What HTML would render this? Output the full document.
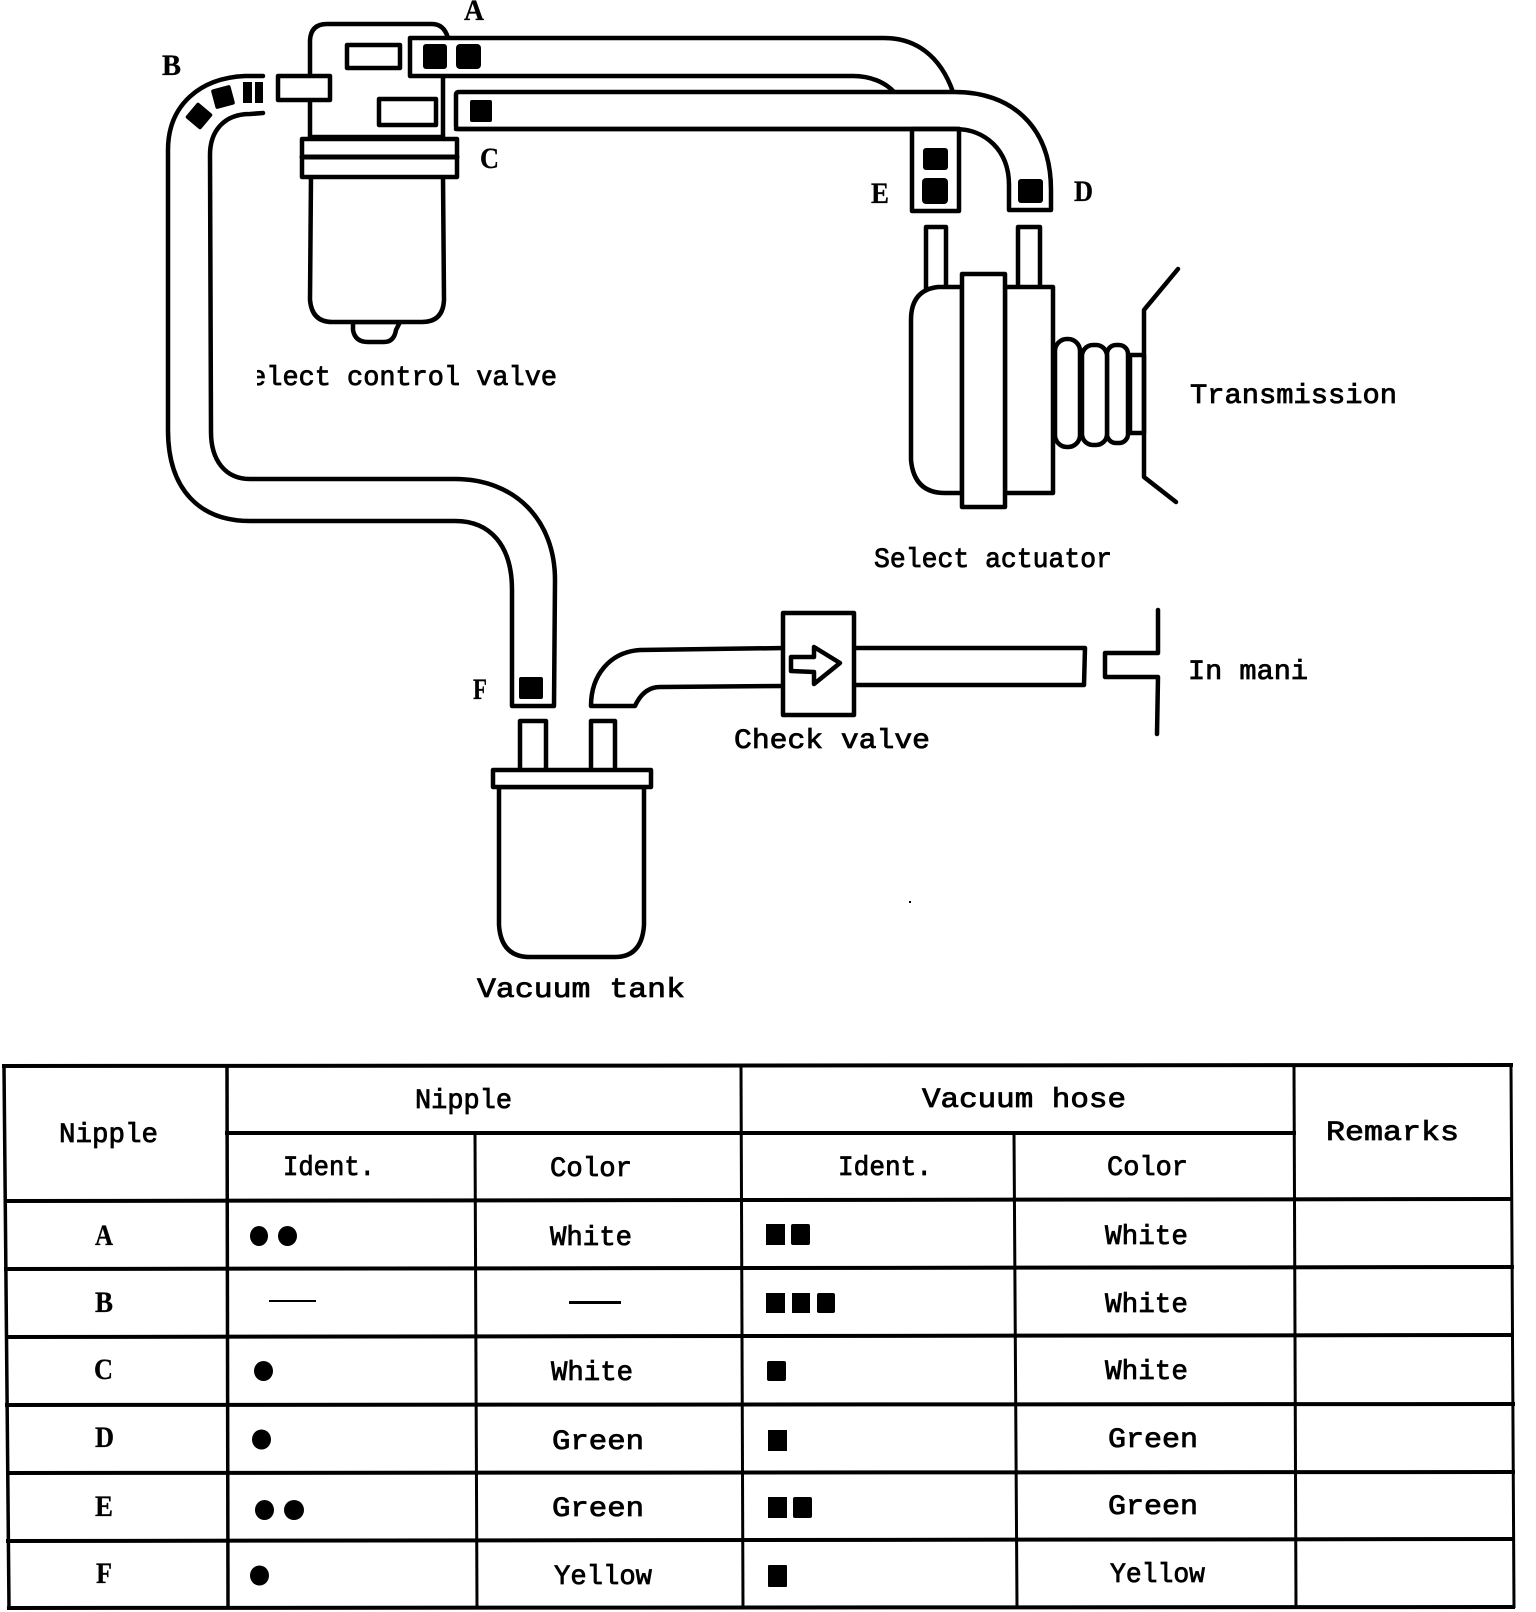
<!DOCTYPE html>
<html><head><meta charset="utf-8"><style>
html,body{margin:0;padding:0;background:#fff}
svg{display:block}
text{font-family:"Liberation Mono",monospace;font-size:28px;fill:#000;stroke:#000;stroke-width:.8}
text.c{font-family:"Liberation Serif",serif;font-weight:bold;font-size:30px;stroke-width:.3}
.s{fill:#fff;stroke:#000;stroke-width:4.5;stroke-linejoin:round;stroke-linecap:round}
.n{fill:none;stroke:#000;stroke-width:4.5;stroke-linejoin:round;stroke-linecap:round}
.t{fill:none;stroke:#000;stroke-width:4;stroke-linecap:square}
.v{fill:none;stroke:#000;stroke-width:3}
</style></head><body>
<svg xmlns="http://www.w3.org/2000/svg" width="1536" height="1612" viewBox="0 0 1536 1612">
<defs><clipPath id="c"><rect x="257" y="350" width="320" height="50"/></clipPath></defs>

<!-- select control valve -->
<path class="s" d="M310,137 L310,40 Q311,24 327,24 L432,24 Q444,24 448,38 L443,76 L443,137 Z"/>
<rect class="s" x="347" y="45" width="53" height="23"/>
<rect class="s" x="379" y="99" width="57" height="26"/>
<rect class="s" x="278" y="76" width="52" height="24"/>
<path class="s" d="M353,322 L353,330 Q355,342 368,342 L384,342 Q394,342 396,330 L400,322 Z"/>
<path class="s" d="M311,176 L310,300 Q312,322 332,322 L422,322 Q443,322 444,300 L443,176 Z"/>
<rect class="s" x="302" y="139" width="155" height="38"/>
<line class="n" x1="302" y1="157" x2="457" y2="157" style="stroke-width:5"/>
<text clip-path="url(#c)" x="234" y="385" textLength="323" lengthAdjust="spacingAndGlyphs">Select control valve</text>

<!-- hose A -->
<path class="s" d="M953,92 C940,55 915,38 884,38 L410,38 L410,76 L853,76 C870,76 885,82 894,92"/>
<rect x="423" y="44" width="24" height="25" rx="3"/><rect x="456" y="44" width="25" height="25" rx="4"/>
<!-- hose C-D -->
<path class="s" d="M459,92 L955,92 C1010,92 1051,125 1051,190 L1051,210 L1009,210 L1009,185 C1009,150 985,129 955,129 L459,129 Q456,129 456,126 L456,95 Q456,92 459,92 Z"/>
<rect x="470" y="100" width="22" height="22" rx="2"/>
<rect class="s" x="912" y="129" width="47" height="82"/>
<line class="n" x1="456" y1="129" x2="959" y2="129"/>
<rect x="923" y="148" width="25" height="22" rx="3"/><rect x="922" y="178" width="26" height="26" rx="4"/>
<rect x="1018" y="179" width="25" height="24" rx="3"/>

<!-- hose B-F -->
<path class="n" d="M263,76 L245,76 C200,78 168,105 168,150 L168,430 C168,490 200,521 250,521 L455,521 C490,521 512,545 512,590 L512,706 L554,706 L555,580 C555,520 515,479 455,479 L250,479 C225,479 211,460 211,432 L210,155 C210,130 225,114 250,114 L263,113"/>
<rect x="243" y="82" width="9" height="21"/><rect x="255" y="82" width="8" height="21"/>
<rect x="213" y="87" width="20" height="20" rx="2" transform="rotate(-15 223 97)"/>
<rect x="189" y="106" width="20" height="20" rx="2" transform="rotate(40 199 116)"/>
<rect x="519" y="677" width="24" height="22" rx="2"/>

<!-- actuator -->
<rect class="s" x="926" y="227" width="20" height="62"/>
<rect class="s" x="1018" y="227" width="22" height="62"/>
<path class="s" d="M962,287 L938,287 Q911,290 911,320 L911,460 Q914,493 945,493 L962,493 Z"/>
<rect class="s" x="1005" y="287" width="48" height="206"/>
<rect class="s" x="962" y="274" width="43" height="233"/>
<rect class="s" x="1130" y="355" width="14" height="78"/>
<rect class="s" x="1107" y="345" width="21" height="98" rx="9"/>
<rect class="s" x="1082" y="345" width="25" height="100" rx="11"/>
<rect class="s" x="1055" y="339" width="25" height="108" rx="12"/>
<path class="n" d="M1178,269 L1144,310 L1144,477 L1176,502"/>

<!-- tank -->
<rect class="s" x="520" y="721" width="26" height="50"/>
<rect class="s" x="591" y="721" width="24" height="50"/>
<path class="s" d="M499,787 L499,925 Q501,957 530,957 L615,957 Q642,957 644,925 L644,787 Z"/>
<rect class="s" x="493" y="770" width="158" height="17"/>

<!-- elbow + check valve -->
<path class="s" d="M785,648 L640,650 C610,652 591,675 591,706 L635,706 C640,695 648,687 660,687 L785,686"/>
<path class="s" d="M854,648 L1085,648 L1084,685 L854,685"/>
<rect class="s" x="783" y="613" width="71" height="102"/>
<path class="n" d="M791,657 L814,657 L814,647 L840,663 L814,684 L814,672 L791,671 Z"/>
<path class="n" d="M1158,610 L1158,653 L1105,653 L1105,677 L1158,677 L1157,734"/>
<rect x="909" y="901" width="2" height="2"/>

<!-- diagram labels -->
<text class="c" x="464" y="20" textLength="20" lengthAdjust="spacingAndGlyphs">A</text>
<text class="c" x="162" y="75" textLength="19" lengthAdjust="spacingAndGlyphs">B</text>
<text class="c" x="480" y="168" textLength="19" lengthAdjust="spacingAndGlyphs">C</text>
<text class="c" x="871" y="203" textLength="18" lengthAdjust="spacingAndGlyphs">E</text>
<text class="c" x="1074" y="201" textLength="19" lengthAdjust="spacingAndGlyphs">D</text>
<text class="c" x="473" y="699" textLength="14" lengthAdjust="spacingAndGlyphs">F</text>
<text x="1190" y="403" textLength="207" lengthAdjust="spacingAndGlyphs">Transmission</text>
<text x="874" y="567" textLength="238" lengthAdjust="spacingAndGlyphs">Select actuator</text>
<text x="1188" y="679" textLength="120" lengthAdjust="spacingAndGlyphs">In mani</text>
<text x="734" y="748" textLength="196" lengthAdjust="spacingAndGlyphs">Check valve</text>
<text x="477" y="997" textLength="208" lengthAdjust="spacingAndGlyphs">Vacuum tank</text>

<!-- table -->
<path class="t" d="M4,1066 L1511,1065"/>
<path class="t" d="M227,1133 L1294,1133"/>
<path class="t" d="M6,1201 L1511,1199"/>
<path class="t" d="M6,1269 L1512,1267"/>
<path class="t" d="M7,1337 L1512,1335"/>
<path class="t" d="M7,1405 L1513,1404"/>
<path class="t" d="M8,1473 L1513,1472"/>
<path class="t" d="M8,1541 L1513,1539"/>
<path class="t" d="M9,1608 L1513,1607"/>
<path class="v" d="M4,1066 L9,1608" style="stroke-width:3.5"/>
<path class="v" d="M227,1066 L228,1608" style="stroke-width:3.5"/>
<path class="v" d="M475,1133 L477,1608"/>
<path class="v" d="M741,1066 L743,1608"/>
<path class="v" d="M1014,1133 L1017,1608"/>
<path class="v" d="M1294,1066 L1296,1608"/>
<path class="v" d="M1511,1066 L1514,1608"/>

<text x="59" y="1142" textLength="99" lengthAdjust="spacingAndGlyphs">Nipple</text>
<text x="415" y="1108" textLength="97" lengthAdjust="spacingAndGlyphs">Nipple</text>
<text x="922" y="1107" textLength="204" lengthAdjust="spacingAndGlyphs">Vacuum hose</text>
<text x="1326" y="1140" textLength="133" lengthAdjust="spacingAndGlyphs">Remarks</text>
<text x="283" y="1175" textLength="92" lengthAdjust="spacingAndGlyphs">Ident.</text>
<text x="550" y="1176" textLength="82" lengthAdjust="spacingAndGlyphs">Color</text>
<text x="838" y="1175" textLength="94" lengthAdjust="spacingAndGlyphs">Ident.</text>
<text x="1107" y="1175" textLength="81" lengthAdjust="spacingAndGlyphs">Color</text>

<text class="c" x="95" y="1245" textLength="18" lengthAdjust="spacingAndGlyphs">A</text>
<text class="c" x="95" y="1312" textLength="18" lengthAdjust="spacingAndGlyphs">B</text>
<text class="c" x="94" y="1379" textLength="19" lengthAdjust="spacingAndGlyphs">C</text>
<text class="c" x="95" y="1447" textLength="19" lengthAdjust="spacingAndGlyphs">D</text>
<text class="c" x="95" y="1516" textLength="18" lengthAdjust="spacingAndGlyphs">E</text>
<text class="c" x="96" y="1583" textLength="16" lengthAdjust="spacingAndGlyphs">F</text>

<text x="550" y="1245" textLength="82" lengthAdjust="spacingAndGlyphs">White</text>
<text x="551" y="1380" textLength="82" lengthAdjust="spacingAndGlyphs">White</text>
<text x="552" y="1449" textLength="92" lengthAdjust="spacingAndGlyphs">Green</text>
<text x="552" y="1516" textLength="92" lengthAdjust="spacingAndGlyphs">Green</text>
<text x="554" y="1584" textLength="98" lengthAdjust="spacingAndGlyphs">Yellow</text>

<text x="1105" y="1244" textLength="83" lengthAdjust="spacingAndGlyphs">White</text>
<text x="1105" y="1312" textLength="83" lengthAdjust="spacingAndGlyphs">White</text>
<text x="1105" y="1379" textLength="83" lengthAdjust="spacingAndGlyphs">White</text>
<text x="1108" y="1447" textLength="90" lengthAdjust="spacingAndGlyphs">Green</text>
<text x="1108" y="1514" textLength="90" lengthAdjust="spacingAndGlyphs">Green</text>
<text x="1110" y="1582" textLength="95" lengthAdjust="spacingAndGlyphs">Yellow</text>

<!-- dots -->
<ellipse cx="259" cy="1236" rx="9" ry="10"/><ellipse cx="287.500" cy="1236" rx="9.500" ry="10"/>
<rect x="269" y="1300" width="47" height="2"/><rect x="569" y="1301" width="52" height="3"/>
<ellipse cx="263.500" cy="1371" rx="9.500" ry="10"/>
<ellipse cx="261.500" cy="1439.500" rx="9.500" ry="10"/>
<ellipse cx="264.500" cy="1510" rx="9.500" ry="10"/><ellipse cx="294" cy="1510" rx="10" ry="10"/>
<ellipse cx="259.500" cy="1575.500" rx="9.500" ry="10"/>

<!-- squares -->
<rect x="766" y="1224" width="19" height="21"/><rect x="791" y="1224" width="19" height="21" rx="2"/>
<rect x="766" y="1293" width="19" height="20"/><rect x="792" y="1293" width="18" height="20"/><rect x="817" y="1293" width="18" height="20" rx="2"/>
<rect x="767" y="1361" width="19" height="20" rx="2"/>
<rect x="768" y="1430" width="19" height="21"/>
<rect x="768" y="1497" width="19" height="21"/><rect x="793" y="1497" width="19" height="21" rx="2"/>
<rect x="768" y="1565" width="19" height="22" rx="1"/>
</svg>
</body></html>
